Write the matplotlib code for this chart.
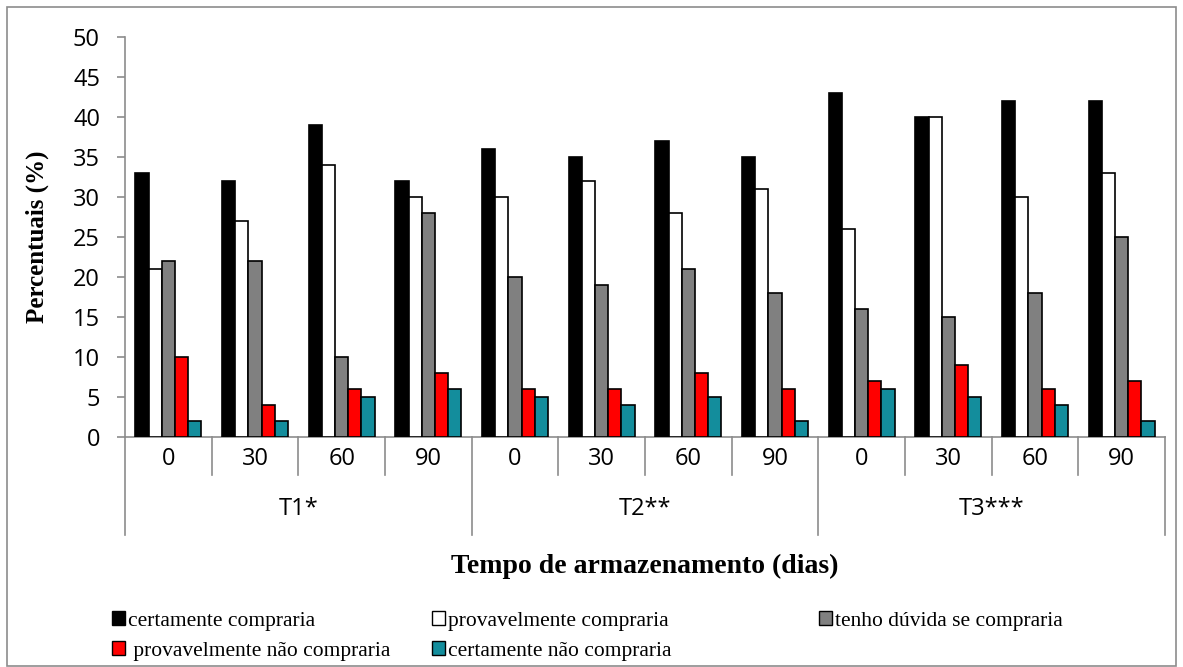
import numpy as np
import matplotlib.pyplot as plt
from matplotlib.patches import Rectangle, Patch
import matplotlib.transforms as mtransforms

# data
treatments = ['T1*', 'T2**', 'T3***']
days = ['0', '30', '60', '90']
series = ['certamente compraria', 'provavelmente compraria', 'tenho dúvida se compraria',
          ' provavelmente não compraria', 'certamente não compraria']
certamente_compraria = [33, 32, 39, 32, 36, 35, 37, 35, 43, 40, 42, 42]
provavelmente_compraria = [21, 27, 34, 30, 30, 32, 28, 31, 26, 40, 30, 33]
tenho_duvida = [22, 22, 10, 28, 20, 19, 21, 18, 16, 15, 18, 25]
provavelmente_nao = [10, 4, 6, 8, 6, 6, 8, 6, 7, 9, 6, 7]
certamente_nao = [2, 2, 5, 6, 5, 4, 5, 2, 6, 5, 4, 2]

values = [certamente_compraria, provavelmente_compraria, tenho_duvida,
          provavelmente_nao, certamente_nao]
colors = ['#000000', '#ffffff', '#808080', '#ff0000', '#138d9c']

W, H = 1183, 667
fig = plt.figure(figsize=(W / 100, H / 100), dpi=100)
ax = fig.add_axes([125 / W, 1 - 437 / H, 1040 / W, 400 / H])

n = len(treatments) * len(days)
x = np.arange(n)
bw = 0.152
for k, (vals, col) in enumerate(zip(values, colors)):
    ax.bar(x + (k - 2) * bw, vals, width=bw, color=col, edgecolor='black',
           linewidth=1.2, zorder=3)

ax.set_xlim(-0.5, n - 0.5)
ax.set_ylim(0, 50)
ax.set_yticks(np.arange(0, 51, 5))
ax.set_xticks([])
for s in ['top', 'right']:
    ax.spines[s].set_visible(False)
for s in ['left', 'bottom']:
    ax.spines[s].set_color('#8c8c8c')
    ax.spines[s].set_linewidth(1.2)
ax.tick_params(axis='y', length=6, color='#8c8c8c', width=1.2, pad=12,
               labelsize=17)
for lab in ax.get_yticklabels():
    lab.set_family('Open Sans')

# category axis: day labels and treatment labels with separators
trans = mtransforms.blended_transform_factory(ax.transData, ax.transAxes)
d_short = -38 / 400
d_long = -98 / 400
for i in range(n + 1):
    b = i - 0.5
    low = d_long if i % len(days) == 0 else d_short
    ax.plot([b, b], [0, low], transform=trans, color='#8c8c8c', lw=1.2,
            clip_on=False)
for i in range(n):
    ax.text(x[i], -22 / 400, days[i % len(days)], transform=trans, ha='center',
            va='center', fontsize=17, family='Open Sans')
for j, t in enumerate(treatments):
    cx = j * len(days) + (len(days) - 1) / 2
    ax.text(cx, -72 / 400, t, transform=trans, ha='center', va='center',
            fontsize=17, family='Open Sans')

ax.set_ylabel('Percentuais (%)', family='Liberation Serif', fontweight='bold',
              fontsize=18)
ax.yaxis.set_label_coords(-76 / 1040, 0.5)
fig.text(645 / W, 1 - 566 / H, 'Tempo de armazenamento (dias)', ha='center',
         va='center', family='Liberation Serif', fontweight='bold', fontsize=20)

# legend, placed entry by entry like the original
leg_pos = [(112, 621), (432, 621), (819, 621), (112, 651), (432, 651)]
for lab, col, (px, py) in zip(series, colors, leg_pos):
    h = Patch(facecolor=col, edgecolor='black', linewidth=1.0)
    lg = fig.legend(handles=[h], labels=[lab], loc='center left',
                    bbox_to_anchor=(px / W, 1 - py / H), frameon=False,
                    prop={'family': 'Liberation Serif', 'size': 15.5},
                    handlelength=0.6, handleheight=0.6, handletextpad=0.15,
                    borderpad=0, borderaxespad=0)

fig.add_artist(Rectangle((7 / W, 1 / H), 1169 / W, 659 / H, transform=fig.transFigure,
                         fill=False, edgecolor='#8c8c8c', linewidth=1.2))

fig.savefig('out.png', dpi=100)
